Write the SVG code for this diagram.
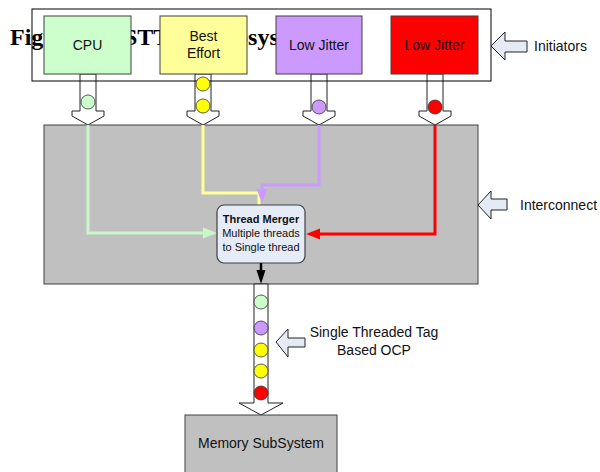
<svg xmlns="http://www.w3.org/2000/svg" width="600" height="472" viewBox="0 0 600 472">
<style>
.lbl{font-family:"Liberation Sans",Arial,sans-serif;font-size:14px;fill:#111}
.box{stroke:#404040;stroke-width:1}
.harrow{fill:#fff;stroke:#222;stroke-width:1}
.call{fill:#e4ebf5;stroke:#222;stroke-width:1}
.dot{stroke:#333;stroke-width:0.8}
.wire{fill:none;stroke-width:3}
</style>

<text font-family="'Liberation Serif','Times New Roman',serif" font-weight="bold" font-size="24" fill="#000" y="45"><tspan x="10">Figure 1.</tspan><tspan x="124">STTL</tspan><tspan x="212">subsystem</tspan></text>

<g id="connectors">
<polygon class="harrow" points="80,74 96,74 96,111 104,111 104,116 88,125 72,116 72,111 80,111"/>
<polygon class="harrow" points="195,74 211,74 211,111 219,111 219,116 203,125 187,116 187,111 195,111"/>
<polygon class="harrow" points="311,74 327,74 327,111 335,111 335,116 319,125 303,116 303,111 311,111"/>
<polygon class="harrow" points="427,74 443,74 443,111 451,111 451,116 435,125 419,116 419,111 427,111"/>
</g>

<g id="initiators">
<rect x="32" y="9" width="459" height="72" fill="none" stroke="#000" stroke-width="1"/>
</g>

<g id="cpu">
<rect class="box" x="44" y="16" width="87" height="58" fill="#ccffcc"/>
<text class="lbl" x="87.5" y="50" text-anchor="middle">CPU</text>
</g>
<g id="best-effort">
<rect class="box" x="160" y="16" width="87" height="58" fill="#ffff99"/>
<text class="lbl" x="203.5" y="41" text-anchor="middle">Best</text>
<text class="lbl" x="203.5" y="58" text-anchor="middle">Effort</text>
</g>
<g id="low-jitter-1">
<rect class="box" x="276" y="16" width="86" height="58" fill="#cc99ff"/>
<text class="lbl" x="319" y="50" text-anchor="middle">Low Jitter</text>
</g>
<g id="low-jitter-2">
<rect class="box" x="391" y="16" width="87" height="58" fill="#ff0000"/>
<text class="lbl" x="434.5" y="50" text-anchor="middle">Low Jitter</text>
</g>

<g id="tokens-in">
<circle class="dot" cx="88" cy="102" r="7" fill="#ccffcc"/>
<circle class="dot" cx="203" cy="84" r="7" fill="#ffff00"/>
<circle class="dot" cx="203" cy="106" r="7" fill="#ffff00"/>
<circle class="dot" cx="319" cy="107" r="7" fill="#cc99ff"/>
<circle class="dot" cx="435" cy="107" r="7" fill="#ff0000"/>
</g>

<g id="interconnect">
<rect class="box" x="44" y="125" width="434" height="159" fill="#c0c0c0"/>
</g>

<g id="wires">
<polyline class="wire" stroke="#c8f7c8" points="88,125 88,233 204,233"/>
<polygon fill="#c8f7c8" points="217,233 203,227.5 203,238.5"/>
<polyline class="wire" stroke="#ffff99" points="203,125 203,193 259,193 259,205"/>
<polyline class="wire" stroke="#cc99ff" points="319,125 319,185 262,185 262,191"/>
<polygon fill="#cc99ff" points="262,203 256.5,189 267.5,189"/>
<polyline class="wire" stroke="#ff0000" points="435,125 435,234 319,234"/>
<polygon fill="#ff0000" points="306,234 320,228.5 320,239.5"/>
</g>

<g id="thread-merger">
<rect x="217" y="205" width="88" height="58" rx="7" fill="#e6ecf7" stroke="#404040" stroke-width="1.2"/>
<text x="261" y="223" text-anchor="middle" font-family="'Liberation Sans',Arial,sans-serif" font-size="11" font-weight="bold" fill="#111">Thread Merger</text>
<text x="261" y="237" text-anchor="middle" font-family="'Liberation Sans',Arial,sans-serif" font-size="11" fill="#111">Multiple threads</text>
<text x="261" y="251" text-anchor="middle" font-family="'Liberation Sans',Arial,sans-serif" font-size="11" fill="#111">to Single thread</text>
</g>

<g id="merger-out">
<line x1="261" y1="263" x2="261" y2="271" stroke="#000" stroke-width="2.5"/>
<polygon fill="#000" points="261,284 256.5,270 265.5,270"/>
</g>

<g id="ocp-link">
<polygon class="harrow" points="254,284 268,284 268,403 283,403 261,415 239,403 254,403"/>
<circle class="dot" cx="261" cy="302" r="7" fill="#ccffcc"/>
<circle class="dot" cx="261" cy="328" r="7" fill="#cc99ff"/>
<circle class="dot" cx="261" cy="350" r="7" fill="#ffff00"/>
<circle class="dot" cx="261" cy="371" r="7" fill="#ffff00"/>
<circle class="dot" cx="261" cy="393" r="7" fill="#ff0000"/>
</g>

<g id="memory">
<rect class="box" x="185" y="415" width="152" height="62" fill="#c0c0c0"/>
<text class="lbl" x="261" y="448" text-anchor="middle">Memory SubSystem</text>
</g>

<g id="label-initiators">
<polygon class="call" points="491,46 505,32 505,41 527,41 527,52 505,52 505,60"/>
<text class="lbl" x="534" y="51">Initiators</text>
</g>
<g id="label-interconnect">
<polygon class="call" points="478,205 491,191 491,199 507,199 507,210 491,210 491,219"/>
<text class="lbl" x="520" y="210">Interconnect</text>
</g>
<g id="label-ocp">
<polygon class="call" points="276,342 288,329 288,338 305,338 305,347 288,347 288,357"/>
<text class="lbl" x="374" y="337" text-anchor="middle">Single Threaded Tag</text>
<text class="lbl" x="374" y="355" text-anchor="middle">Based OCP</text>
</g>
</svg>
